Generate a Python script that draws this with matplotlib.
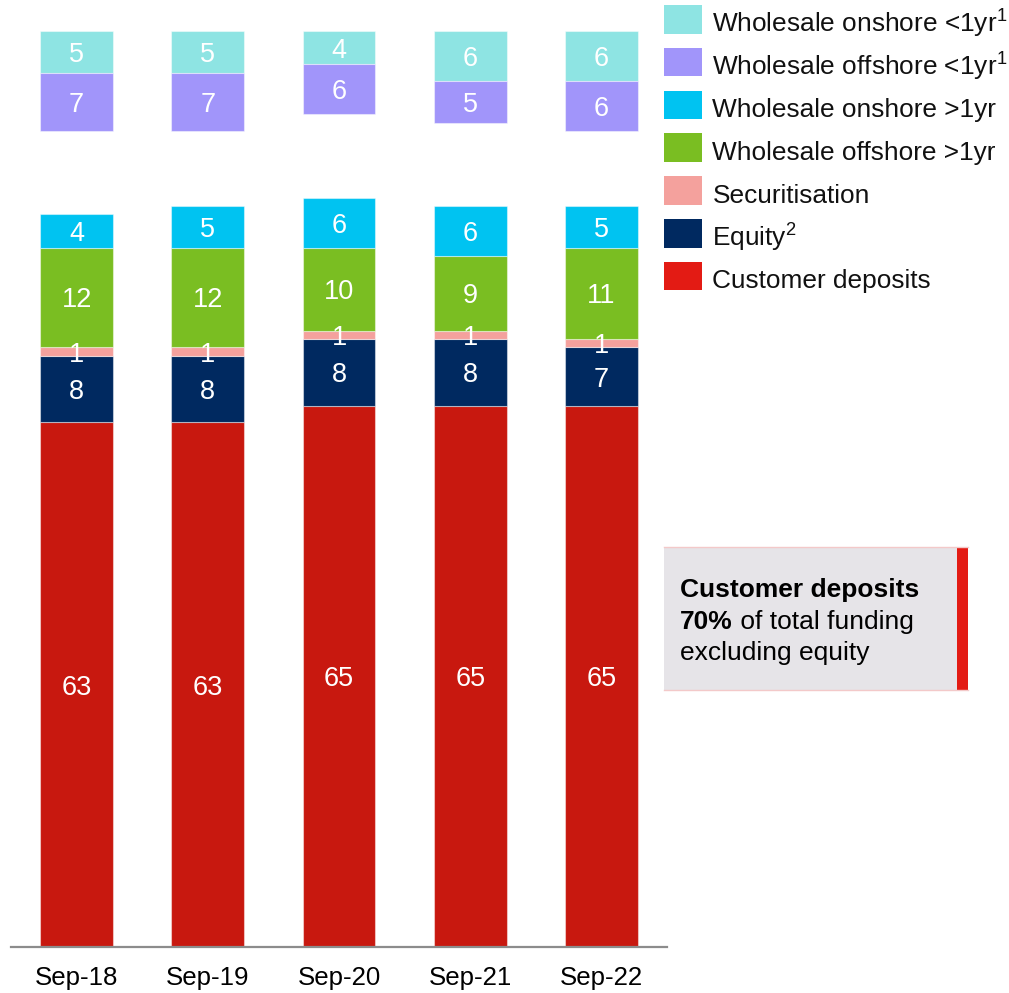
import matplotlib
matplotlib.use("Agg")
import matplotlib.pyplot as plt
from matplotlib.patches import Rectangle
import numpy as np

plt.rcParams["font.family"] = ["Liberation Sans", "DejaVu Sans"]
plt.rcParams["mathtext.fontset"] = "custom"
plt.rcParams["mathtext.rm"] = "Liberation Sans"

# Funding composition (% of total funding)
periods = ["Sep-18", "Sep-19", "Sep-20", "Sep-21", "Sep-22"]
customer_deposits = [63, 63, 65, 65, 65]
equity = [8, 8, 8, 8, 7]
securitisation = [1, 1, 1, 1, 1]
wholesale_offshore_gt1 = [12, 12, 10, 9, 11]
wholesale_onshore_gt1 = [4, 5, 6, 6, 5]
wholesale_offshore_lt1 = [7, 7, 6, 5, 6]
wholesale_onshore_lt1 = [5, 5, 4, 6, 6]

legend_labels = [
    r"Wholesale onshore <1yr$^{\mathrm{1}}$",
    r"Wholesale offshore <1yr$^{\mathrm{1}}$",
    "Wholesale onshore >1yr",
    "Wholesale offshore >1yr",
    "Securitisation",
    r"Equity$^{\mathrm{2}}$",
    "Customer deposits",
]

C_ON_LT1 = "#8ee4e3"
C_OFF_LT1 = "#a195fa"
C_ON_GT1 = "#00c3f1"
C_OFF_GT1 = "#7abe22"
C_SEC = "#f4a19d"
C_EQ = "#002960"
C_DEP = "#c8180f"
C_DEP_KEY = "#e31b14"

W, H = 1009, 993
fig = plt.figure(figsize=(W / 100, H / 100), dpi=100)


def fx(px):
    return px / W


def fy(py):
    return 1 - py / H


# plot area: baseline at y=947px, top of the short-term stacks at y=31px
ax = fig.add_axes([fx(11), fy(947), fx(667) - fx(11), fy(31) - fy(947)])
ax.set_xlim(-0.5, 4.5)
ax.set_ylim(0, 110)
TOP = 110

x = np.arange(len(periods))
bw = 0.556
edge = dict(edgecolor=(1, 1, 1, 0.45), linewidth=0.8)

lower = [
    (customer_deposits, C_DEP),
    (equity, C_EQ),
    (securitisation, C_SEC),
    (wholesale_offshore_gt1, C_OFF_GT1),
    (wholesale_onshore_gt1, C_ON_GT1),
]
label_kw = dict(ha="center", va="center_baseline", color="white", fontsize=19.5)

bottom = np.zeros(len(periods))
for vals, col in lower:
    v = np.array(vals, dtype=float)
    ax.bar(x, v, bw, bottom=bottom, color=col, **edge)
    for xi, b, h in zip(x, bottom, v):
        ax.text(xi, b + h / 2, f"{h:g}", **label_kw)
    bottom += v

# short-term wholesale funding, stacked down from a common top level
upper = [
    (wholesale_onshore_lt1, C_ON_LT1),
    (wholesale_offshore_lt1, C_OFF_LT1),
]
top = np.full(len(periods), TOP, dtype=float)
for vals, col in upper:
    v = np.array(vals, dtype=float)
    ax.bar(x, v, bw, bottom=top - v, color=col, **edge)
    for xi, t, h in zip(x, top, v):
        ax.text(xi, t - h / 2, f"{h:g}", **label_kw)
    top -= v

for s in ["top", "right", "left"]:
    ax.spines[s].set_visible(False)
ax.spines["bottom"].set_color("#8c8c8c")
ax.spines["bottom"].set_linewidth(1.6)
ax.set_yticks([])
ax.set_xticks(x)
ax.set_xticklabels(periods, fontsize=18.6, color="black")
ax.tick_params(axis="x", length=0, pad=14)

# legend
key_colors = [C_ON_LT1, C_OFF_LT1, C_ON_GT1, C_OFF_GT1, C_SEC, C_EQ, C_DEP_KEY]
row0, step = 19.3, 42.8
for i, (lab, col) in enumerate(zip(legend_labels, key_colors)):
    cy = row0 + i * step
    fig.patches.append(Rectangle((fx(664), fy(cy + 14.3)), fx(702) - fx(664),
                                 fy(cy - 14.3) - fy(cy + 14.3),
                                 transform=fig.transFigure, facecolor=col,
                                 edgecolor="none"))
    fig.text(fx(712.5), fy(cy + 12.4), lab, fontsize=18.9, color="#111111",
             ha="left", va="baseline")

# callout box
bx0, bx1, by0, by1 = 664, 968, 547, 690
fig.patches.append(Rectangle((fx(bx0), fy(by1)), fx(bx1) - fx(bx0), fy(by0) - fy(by1),
                             transform=fig.transFigure, facecolor="#e6e4e8",
                             edgecolor="none"))
for yy in (by0, by1):
    fig.lines.append(plt.Line2D([fx(bx0), fx(bx1)], [fy(yy), fy(yy)],
                                transform=fig.transFigure, color="#f3c9c9", lw=1))
fig.patches.append(Rectangle((fx(957), fy(by1)), fx(bx1) - fx(957), fy(by0) - fy(by1),
                             transform=fig.transFigure, facecolor="#e31b14",
                             edgecolor="none"))

fs = 19.0
fig.text(fx(680), fy(597), "Customer deposits", fontsize=fs, fontweight="bold",
         ha="left", va="baseline")
t70 = fig.text(fx(680), fy(629), "70%", fontsize=fs, fontweight="bold",
               ha="left", va="baseline")
renderer = fig.canvas.get_renderer()
ext = t70.get_window_extent(renderer)
fig.text(ext.x1 / W, fy(629), " of total funding", fontsize=fs,
         ha="left", va="baseline")
fig.text(fx(680), fy(660), "excluding equity", fontsize=fs,
         ha="left", va="baseline")

fig.savefig("out.png", dpi=100)
